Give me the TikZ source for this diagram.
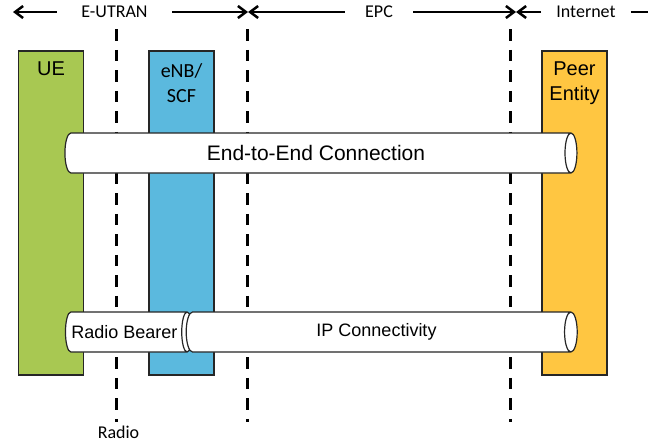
\documentclass[tikz,border=0pt]{standalone}
\usepackage{fontspec}
\setmainfont{Liberation Sans}
\newfontfamily\calfont{Carlito}
\usetikzlibrary{arrows.meta,positioning,shapes.geometric}
\definecolor{uegreen}{RGB}{168,200,82}
\definecolor{enbblue}{RGB}{91,185,222}
\definecolor{peeryellow}{RGB}{255,198,65}
\definecolor{edgegray}{RGB}{38,38,38}
\tikzset{
	entity/.style={draw=edgegray, line width=1.3pt, minimum width=65pt, minimum height=324pt, inner sep=0pt},
	entlbl/.style={inner sep=0pt, align=center, font=\fontsize{20}{25}\selectfont},
	pipe/.style={draw=edgegray, line width=1.2pt, fill=white, cylinder, aspect=0.54, minimum width=40pt, inner xsep=2pt},
	toplbl/.style={inner ysep=0pt, font=\calfont\fontsize{18}{20}\selectfont},
	span/.style={-{Straight Barb[length=8pt, width=12pt]}, line width=2.5pt},
	divider/.style={line width=3pt, dash pattern=on 11.5pt off 9pt}
}
\begin{document}
\begin{tikzpicture}[x=1pt, y=-1pt]
	\useasboundingbox (0,0) rectangle (662,447);
	% domain boundaries on top
	\coordinate (b0) at (13,12);
	\coordinate (b1) at (248,12);
	\coordinate (b2) at (516,12);
	\coordinate (b3) at (648,12);
	\node[toplbl, inner xsep=24.5pt] (eutran) at (114.5,12) {E-UTRAN};
	\node[toplbl, inner xsep=20pt] (epc) at (379,12) {EPC};
	\node[toplbl, inner xsep=15pt] (inet) at (586,12) {Internet};
	\draw[span] (eutran.west) -- (b0);
	\draw[span] (eutran.east) -- (b1);
	\draw[span] (epc.west) -- (b1);
	\draw[span] (epc.east) -- (b2);
	\draw[span] (inet.west) -- (b2);
	\draw[line width=2.5pt] (inet.east) -- (b3);
	% interfaces
	\coordinate (d1top) at (116,29.3);
	\coordinate (d1bot) at (116,422);
	\coordinate (d2top) at (247,29.3);
	\coordinate (d2bot) at (247,422);
	\coordinate (d3top) at (510,29.3);
	\coordinate (d3bot) at (510,422);
	\draw[divider] (d1top) -- (d1bot);
	\draw[divider] (d2top) -- (d2bot);
	\draw[divider] (d3top) -- (d3bot);
	\node[toplbl] (radio) at (118.5,432) {Radio};
	% entities
	\node[entity, fill=uegreen] (ue) at (51,213) {};
	\node[entity, fill=enbblue] (enb) at (181.5,213) {};
	\node[entity, fill=peeryellow] (peer) at (574.5,213) {};
	\node[entlbl, below=11pt of ue.north] (uetxt) {UE};
	\node[entlbl, font=\calfont\fontsize{20}{25}\selectfont, below=13pt of enb.north] (enbtxt) {eNB/\\SCF};
	\node[entlbl, below=11pt of peer.north] (peertxt) {Peer\\Entity};
	% bearers
	\node[pipe, minimum height=512pt, font=\fontsize{21}{24}\selectfont] (e2e) at (316,153) {End-to-End Connection};
	\node[pipe, minimum height=127pt, font=\fontsize{18}{20}\selectfont] (rb) at (124.5,332) {Radio Bearer};
	\node[pipe, minimum height=391pt, font=\fontsize{18}{20}\selectfont] (ipc) at (376.5,332) {IP Connectivity};
\end{tikzpicture}
\end{document}
